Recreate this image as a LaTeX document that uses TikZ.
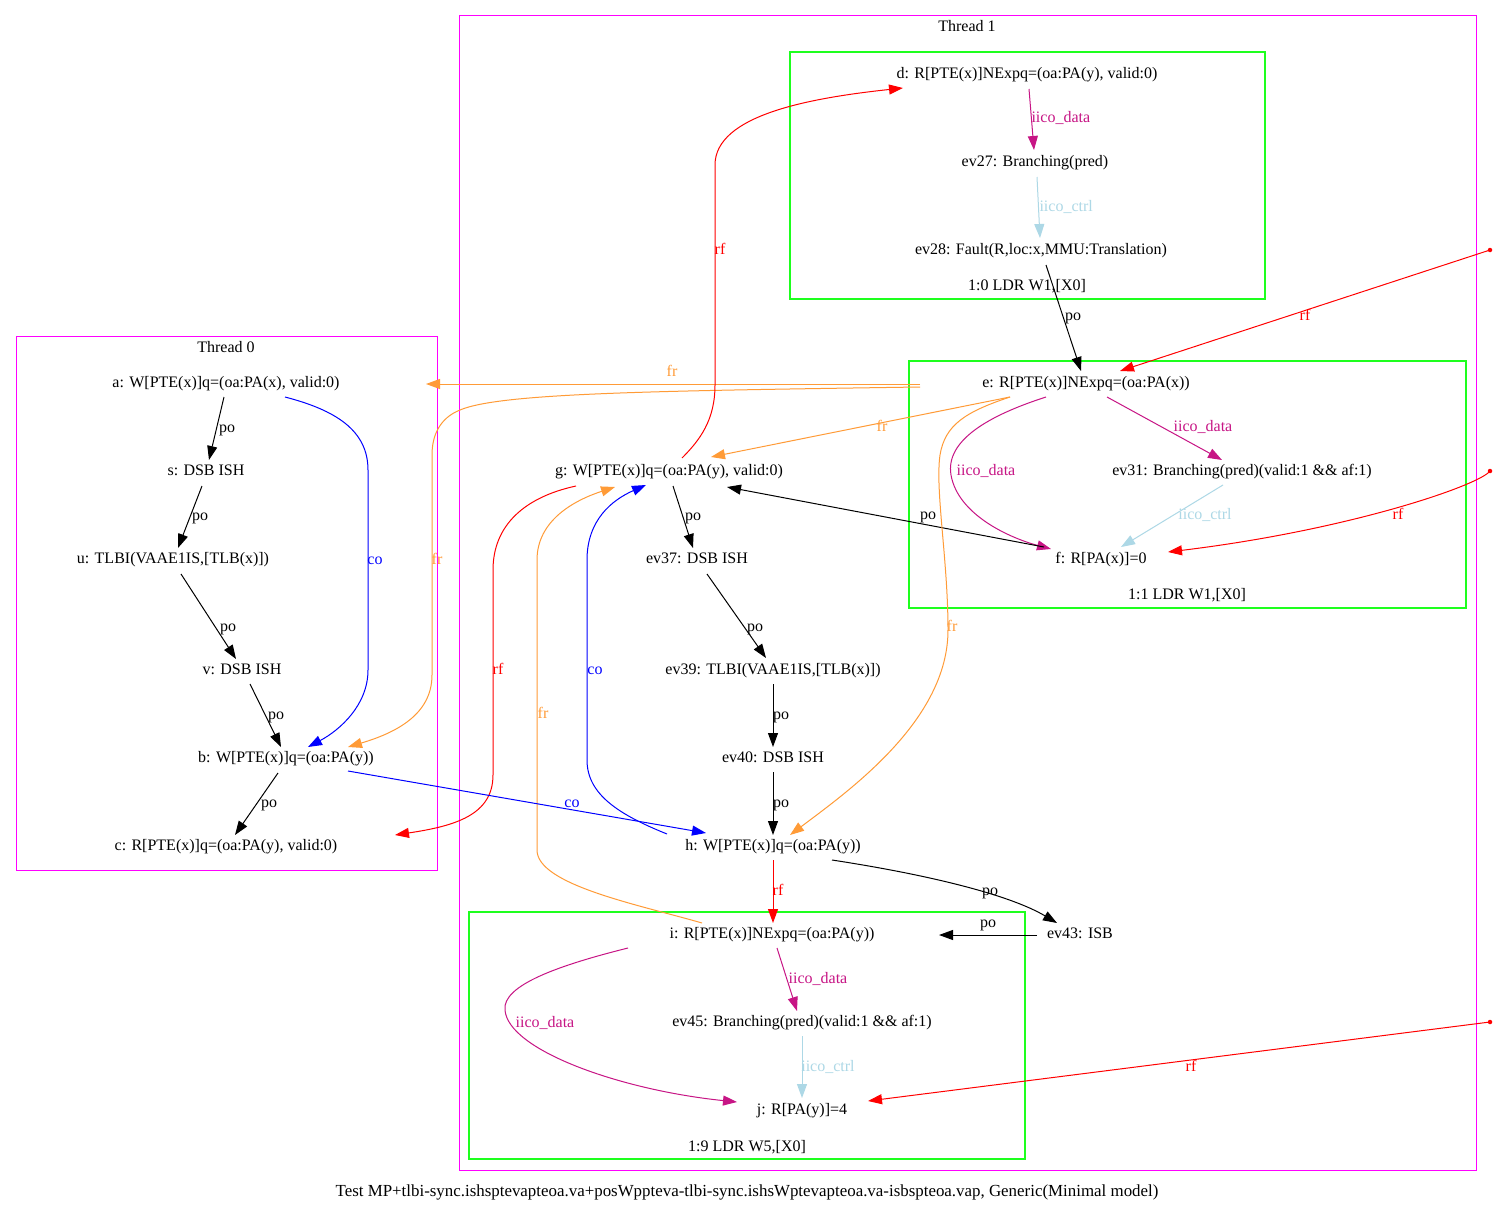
\documentclass[tikz,border=0pt]{standalone}
\usepackage{fontspec}
\setmainfont{Liberation Serif}
\usetikzlibrary{arrows.meta,calc}
\newcommand\evfont{\fontsize{16}{19}\selectfont}
\definecolor{frorange}{RGB}{255,155,55}
\definecolor{iicodata}{RGB}{199,21,133}
\definecolor{iicoctrl}{RGB}{173,216,230}
\definecolor{thrmag}{RGB}{255,0,255}
\definecolor{instgreen}{RGB}{30,255,30}
\begin{document}
\begin{tikzpicture}[x=1pt,y=-1pt,
  ev/.style={font=\evfont, inner sep=0pt, text height=12pt, text depth=3.5pt},
  lbl/.style={font=\evfont, inner sep=0pt, text height=12pt, text depth=3.5pt},
  edgebase/.style={line width=1pt, -{Triangle[length=14pt,width=10pt]}},
  popath/.style={edgebase, black},
  copath/.style={edgebase, blue},
  rfpath/.style={edgebase, red},
  frpath/.style={edgebase, frorange},
  datapath/.style={edgebase, iicodata},
  ctrlpath/.style={edgebase, iicoctrl},
  thread/.style={draw=thrmag, line width=1pt},
  instr/.style={draw=instgreen, line width=1.2pt},
  initdot/.style={circle, fill=red, inner sep=0pt, minimum size=4.5pt}]
\useasboundingbox (0,0) rectangle (1497,1212);
\fill[white] (0,0) rectangle (1497,1212);

% clusters
\draw[thread] (16,336) rectangle (437,870);
\draw[thread] (459,16) rectangle (1476,1170);
\draw[instr] (790,52) rectangle (1265,299);
\draw[instr] (909,361) rectangle (1466,608);
\draw[instr] (469,912) rectangle (1025,1159);
\node[ev] (t0lab) at (226,348) {Thread 0};
\node[ev] (t1lab) at (967,27) {Thread 1};
\node[ev] (g0lab) at (1027,286) {1:0 LDR W1,[X0]};
\node[ev] (g1lab) at (1187,595) {1:1 LDR W1,[X0]};
\node[ev] (g9lab) at (747,1147) {1:9 LDR W5,[X0]};
\node[ev, font=\fontsize{16.9}{19}\selectfont] (cap) at (747,1192) {Test MP+tlbi-sync.ishsptevapteoa.va+posWppteva-tlbi-sync.ishsWptevapteoa.va-isbspteoa.vap, Generic(Minimal model)};

% thread 0 events
\node[ev] (a) at (226,383) {a: W[PTE(x)]q=(oa:PA(x), valid:0)};
\node[ev] (s) at (206,471) {s: DSB ISH};
\node[ev] (u) at (173,559) {u: TLBI(VAAE1IS,[TLB(x)])};
\node[ev] (v) at (242,670) {v: DSB ISH};
\node[ev] (b) at (286,758) {b: W[PTE(x)]q=(oa:PA(y))};
\node[ev] (c) at (226,846) {c: R[PTE(x)]q=(oa:PA(y), valid:0)};

% thread 1 events
\node[ev] (d) at (1027,74) {d: R[PTE(x)]NExpq=(oa:PA(y), valid:0)};
\node[ev] (ev27) at (1035,162) {ev27: Branching(pred)};
\node[ev] (ev28) at (1041,250) {ev28: Fault(R,loc:x,MMU:Translation)};
\node[ev] (e) at (1086,383) {e: R[PTE(x)]NExpq=(oa:PA(x))};
\node[ev] (ev31) at (1242,471) {ev31: Branching(pred)(valid:1 \&\& af:1)};
\node[ev] (f) at (1101,559) {f: R[PA(x)]=0};
\node[ev] (g) at (669,471) {g: W[PTE(x)]q=(oa:PA(y), valid:0)};
\node[ev] (ev37) at (697,559) {ev37: DSB ISH};
\node[ev] (ev39) at (773,670) {ev39: TLBI(VAAE1IS,[TLB(x)])};
\node[ev] (ev40) at (773,758) {ev40: DSB ISH};
\node[ev] (h) at (773,846) {h: W[PTE(x)]q=(oa:PA(y))};
\node[ev] (ev43) at (1080,934) {ev43: ISB};
\node[ev] (i) at (772,934) {i: R[PTE(x)]NExpq=(oa:PA(y))};
\node[ev] (ev45) at (802,1022) {ev45: Branching(pred)(valid:1 \&\& af:1)};
\node[ev] (j) at (802,1110) {j: R[PA(y)]=4};

% initial-state writes
\node[initdot] (x1) at (1490,250) {};
\node[initdot] (x2) at (1490,471) {};
\node[initdot] (x3) at (1490,1022) {};

% program order, thread 0
\draw[popath] ($(a)+(-2,14)$) -- ($(s)+(3,-11)$) node[lbl] (l1) at (227,428) {po};
\draw[popath] ($(s)+(-4,15)$) -- ($(u)+(5,-11)$) node[lbl] (l2) at (200,516) {po};
\draw[popath] ($(u)+(8,15)$) -- ($(v)+(-6,-11)$) node[lbl] (l3) at (228,627) {po};
\draw[popath] ($(v)+(8,14)$) -- ($(b)+(-5,-11)$) node[lbl] (l4) at (276,715) {po};
\draw[popath] ($(b)+(-8,15)$) -- ($(c)+(9,-11)$) node[lbl] (l5) at (269,803) {po};
\draw[copath] ($(a)+(59,14)$) .. controls (335,410) and (368,430) .. (368,470) -- (368,670)
  .. controls (368,705) and (340,730) .. ($(b)+(22,-11)$) node[lbl] (l6) at (375,560) {co};

% thread 1, first load
\draw[datapath] ($(d)+(2,15)$) -- ($(ev27)+(-1,-12)$) node[lbl, anchor=west] (l7) at (1031,118) {iico\_data};
\draw[ctrlpath] ($(ev27)+(2,15)$) -- ($(ev28)+(-1,-12)$) node[lbl, anchor=west] (l8) at (1039,207) {iico\_ctrl};
\draw[popath] ($(ev28)+(5,15)$) -- ($(e)+(-5,-12)$) node[lbl] (l9) at (1073,316) {po};

% thread 1, second load
\draw[rfpath] (x1.center) -- ($(e)+(34,-12)$) node[lbl] (l10) at (1305,316) {rf};
\draw[datapath] ($(e)+(21,14)$) -- ($(ev31)+(-20,-11)$) node[lbl] (l11) at (1203,427) {iico\_data};
\draw[datapath] ($(e)+(-40,14)$) .. controls (990,415) and (945,440) .. (951,475)
  .. controls (958,515) and (1010,538) .. ($(f)+(-50,-10)$) node[lbl] (l12) at (986,471) {iico\_data};
\draw[ctrlpath] ($(ev31)+(-19,14)$) -- ($(f)+(20,-12)$) node[lbl] (l13) at (1205,515) {iico\_ctrl};
\draw[rfpath] (x2.center) .. controls (1480,485) and (1350,530) .. ($(f)+(67,-7)$) node[lbl] (l14) at (1398,515) {rf};
\draw[popath] ($(f)+(-57,-12)$) -- ($(g)+(58,16)$) node[lbl] (l15) at (928,515) {po};

% from-reads out of e
\draw[frpath] ($(e)+(-166,1)$) -- ($(a)+(200,1)$) node[lbl] (l16) at (672,372) {fr};
\draw[frpath] ($(e)+(-166,4)$) .. controls (650,391) and (500,393) .. (460,410)
  .. controls (440,418) and (432,435) .. (432,455) -- (432,675)
  .. controls (432,715) and (395,733) .. ($(b)+(62,-11)$) node[lbl] (l17) at (437,560) {fr};
\draw[frpath] ($(e)+(-76,14)$) -- ($(g)+(42,-14)$) node[lbl] (l18) at (882,427) {fr};
\draw[frpath] ($(e)+(-76,14)$) .. controls (965,412) and (945,425) .. (940,455)
  .. controls (935,490) and (948,560) .. (948,630)
  .. controls (948,720) and (850,790) .. ($(h)+(17,-11)$) node[lbl] (l19) at (952,627) {fr};

% g and its relations
\draw[rfpath] ($(g)+(13,-13)$) .. controls (700,440) and (715,420) .. (715,385) -- (715,165)
  .. controls (715,115) and (810,98) .. ($(d)+(-124,14)$) node[lbl] (l20) at (720,250) {rf};
\draw[rfpath] ($(g)+(-93,15)$) .. controls (525,497) and (493,525) .. (493,570) -- (493,775)
  .. controls (493,815) and (455,826) .. ($(c)+(169,-11)$) node[lbl] (l21) at (498,670) {rf};
\draw[popath] ($(g)+(4,15)$) -- ($(ev37)+(-4,-11)$) node[lbl] (l22) at (693,516) {po};
\draw[popath] ($(ev37)+(10,15)$) -- ($(ev39)+(-7,-12)$) node[lbl] (l23) at (755,627) {po};
\draw[popath] ($(ev39)+(0,14)$) -- ($(ev40)+(0,-11)$) node[lbl] (l24) at (781,715) {po};
\draw[popath] ($(ev40)+(0,14)$) -- ($(h)+(0,-11)$) node[lbl] (l25) at (781,803) {po};
\draw[copath] ($(h)+(-106,-12)$) .. controls (620,815) and (587,795) .. (587,760) -- (587,560)
  .. controls (587,520) and (612,500) .. ($(g)+(-23,14)$) node[lbl] (l26) at (595,670) {co};
\draw[frpath] ($(i)+(-70,-11)$) .. controls (640,905) and (537,885) .. (537,850) -- (537,560)
  .. controls (537,520) and (575,500) .. ($(g)+(-54,16)$) node[lbl] (l27) at (543,714) {fr};
\draw[copath] ($(b)+(62,13)$) -- ($(h)+(-67,-13)$) node[lbl] (l28) at (572,803) {co};

% h, ev43 and the last load
\draw[rfpath] ($(h)+(0,14)$) -- ($(i)+(1,-11)$) node[lbl] (l29) at (778,891) {rf};
\draw[popath] ($(h)+(59,14)$) .. controls (930,875) and (1010,895) .. ($(ev43)+(-23,-11)$) node[lbl] (l30) at (990,891) {po};
\draw[popath] ($(ev43)+(-43,1)$) -- ($(i)+(167,1)$) node[lbl] (l31) at (988,923) {po};
\draw[datapath] ($(i)+(5,14)$) -- ($(ev45)+(-5,-11)$) node[lbl] (l32) at (818,979) {iico\_data};
\draw[datapath] ($(i)+(-144,14)$) .. controls (560,965) and (502,985) .. (505,1010)
  .. controls (508,1050) and (620,1090) .. ($(j)+(-65,-8)$) node[lbl] (l33) at (545,1023) {iico\_data};
\draw[ctrlpath] ($(ev45)+(0,14)$) -- ($(j)+(0,-12)$) node[lbl] (l34) at (828,1067) {iico\_ctrl};
\draw[rfpath] (x3.center) -- ($(j)+(66,-9)$) node[lbl] (l35) at (1191,1067) {rf};
\end{tikzpicture}
\end{document}
